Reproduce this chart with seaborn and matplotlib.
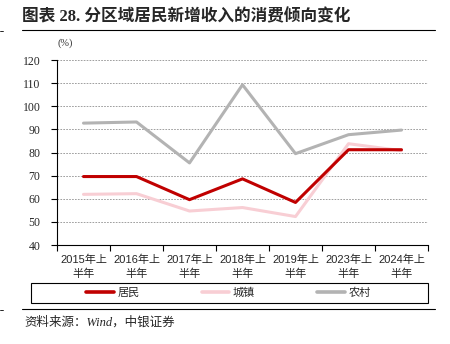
import matplotlib
matplotlib.use("Agg")
import matplotlib.pyplot as plt
from matplotlib.lines import Line2D
from matplotlib.patches import Rectangle
import seaborn as sns
import pandas as pd

# Consumption propensity of newly added income, by region (%)
periods = ["2015年上\n半年", "2016年上\n半年", "2017年上\n半年", "2018年上\n半年",
           "2019年上\n半年", "2023年上\n半年", "2024年上\n半年"]
residents = [69.6, 69.6, 59.6, 68.6, 58.4, 81.2, 81.2]
urban = [61.9, 62.2, 54.7, 56.2, 52.3, 83.8, 80.8]
rural = [92.7, 93.2, 75.5, 109.3, 79.5, 87.7, 89.7]
series_names = ["居民", "城镇", "农村"]
yticks = [40, 50, 60, 70, 80, 90, 100, 110, 120]

sns.set_theme(style="white")
SERIF = ["Liberation Serif", "Noto Sans CJK SC", "DejaVu Sans"]
SANS = ["Liberation Sans", "Noto Sans CJK SC", "DejaVu Sans"]
plt.rcParams["font.family"] = SERIF
plt.rcParams["axes.unicode_minus"] = False

colors = {"居民": "#C00000", "城镇": "#F8CED4", "农村": "#B3B3B3"}

idx = list(range(len(periods)))
df = pd.concat([
    pd.DataFrame({"x": idx, "value": vals, "series": name})
    for name, vals in zip(series_names, [residents, urban, rural])
])

fig = plt.figure(figsize=(4.5, 3.44), dpi=100)
ax = fig.add_axes([57 / 450, 1 - 245 / 344, 371 / 450, 185 / 344])

sns.lineplot(data=df, x="x", y="value", hue="series", hue_order=series_names,
             palette=colors, linewidth=2.2, ax=ax, legend=False, zorder=3)
# keep the red series on top
for line in ax.lines:
    if line.get_color() in ("#C00000", "#c00000"):
        line.set_zorder(5)

ax.set_xlim(-0.5, len(periods) - 0.5)
ax.set_ylim(40, 120)
ax.set_yticks(yticks)
ax.set_yticklabels([str(v) for v in yticks], fontsize=8.5, family=SERIF)
ax.set_xticks([i - 0.5 for i in range(len(periods) + 1)])
ax.set_xticklabels([])
ax.set_xticks(idx, minor=True)
ax.set_xticklabels(periods, minor=True, fontsize=8, family=SANS, linespacing=1.45)
ax.tick_params(axis="x", which="major", direction="out", length=4, width=0.8,
               color="black", bottom=True)
ax.tick_params(axis="x", which="minor", length=0, pad=7)
ax.tick_params(axis="y", direction="out", length=4, width=0.8, color="black",
               left=True, pad=8)
ax.set_xlabel("")
ax.set_ylabel("")

ax.grid(axis="y", linestyle=(0, (2, 1.5)), color="#8f8f8f", linewidth=0.6)
ax.set_axisbelow(True)
for side in ("top", "right"):
    ax.spines[side].set_visible(False)
for side in ("left", "bottom"):
    ax.spines[side].set_color("black")
    ax.spines[side].set_linewidth(0.8)

ax.text(0.0, 1.065, "(%)", transform=ax.transAxes, fontsize=7.5,
        family=SERIF, ha="left", va="bottom", color="#333333")

# legend in a plain box below the axes
fig.add_artist(Rectangle((31 / 450, 1 - 303 / 344), 397 / 450, 20 / 344,
                         transform=fig.transFigure, fill=False,
                         edgecolor="black", linewidth=0.8))
handles = [Line2D([0], [0], color=colors[n], linewidth=2.6) for n in series_names]
leg = fig.legend(handles, series_names, loc="center left",
                 bbox_to_anchor=(86 / 450, 1 - 293 / 344),
                 ncol=3, frameon=False, handlelength=2.5, handletextpad=0.3,
                 columnspacing=5.6, borderaxespad=0, borderpad=0,
                 prop={"family": SERIF, "size": 8})
for t in leg.get_texts():
    t.set_style("italic")

# title, rules and source note
fig.text(22 / 450, 1 - 17 / 344, "图表 28. 分区域居民新增收入的消费倾向变化",
         fontsize=12, fontweight="bold", family=SERIF, va="center", ha="left")
fig.add_artist(Line2D([22 / 450, 435 / 450], [1 - 29.5 / 344] * 2,
                      color="black", linewidth=0.8))
fig.add_artist(Line2D([0, 3 / 450], [1 - 30.5 / 344] * 2, color="black", linewidth=0.6))
fig.add_artist(Line2D([22 / 450, 435 / 450], [1 - 309 / 344] * 2,
                      color="black", linewidth=0.8))
fig.add_artist(Line2D([0, 3 / 450], [1 - 310 / 344] * 2, color="black", linewidth=0.6))
fig.text(24 / 450, 1 - 322 / 344, "资料来源：Wind，中银证券", fontsize=9,
         style="italic", family=SERIF, va="center", ha="left")

fig.savefig("out.png", dpi=100)
